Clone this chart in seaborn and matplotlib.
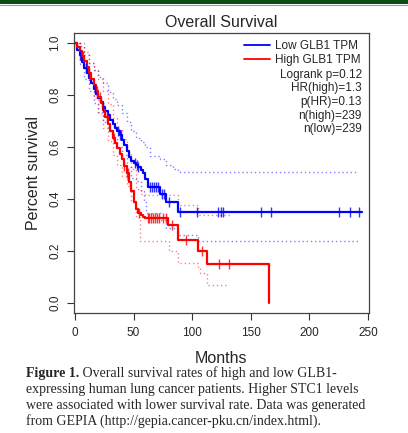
import numpy as np
import matplotlib
matplotlib.use("Agg")
import matplotlib.pyplot as plt
import seaborn as sns
from matplotlib.lines import Line2D
from matplotlib.patches import Rectangle

sns.set_style("white")
plt.rcParams['font.family'] = ['Liberation Sans', 'DejaVu Sans']

# Kaplan-Meier step knots (months, survival)
low_t = [0, 2, 4, 6, 8, 10, 12, 14, 16, 18, 20, 22, 24, 26, 28, 30, 32, 34, 36, 38,
         40, 42, 44, 46, 48, 50, 52, 54, 56, 58, 60, 62, 72.5, 77.5, 88, 244.6]
low_s = [1.0, 0.975, 0.952, 0.928, 0.905, 0.885, 0.865, 0.845, 0.825, 0.805, 0.788,
         0.772, 0.755, 0.74, 0.722, 0.705, 0.688, 0.672, 0.66, 0.645, 0.628, 0.608,
         0.585, 0.56, 0.548, 0.54, 0.532, 0.522, 0.512, 0.5, 0.478, 0.447, 0.42,
         0.39, 0.35, 0.35]

high_t = [0, 2, 4, 6, 8, 10, 12, 14, 16, 18, 20, 22, 24, 26, 28, 30, 32, 34, 36, 38,
          40, 42, 44, 46, 48, 50, 52, 54, 56, 58, 60, 79.6, 87.5, 105.2, 112.3, 165.5]
high_s = [1.0, 0.985, 0.968, 0.95, 0.93, 0.908, 0.885, 0.862, 0.838, 0.815, 0.792,
          0.768, 0.742, 0.715, 0.69, 0.662, 0.636, 0.614, 0.595, 0.575, 0.552, 0.528,
          0.5, 0.465, 0.43, 0.39, 0.362, 0.348, 0.338, 0.33, 0.325, 0.3, 0.242, 0.2,
          0.151, 0.0]

# censoring times
low_cens = [4, 9, 17, 24, 36.5, 38, 39, 51, 52.5, 54, 64, 65.5, 67, 69, 70.5, 74.5,
            76, 80, 89.5, 104, 122, 124.5, 126, 159, 167, 225, 235, 242]
high_cens = [7, 12, 18.5, 21, 27, 33, 42, 44, 45, 55, 62, 63.5, 65, 66.5, 68, 70, 72,
             75, 78, 83, 94.4, 108.6, 122.9, 131.7]

# 95% confidence bands
low_up_t = [0, 4, 8, 12, 16, 20, 24, 28, 32, 36, 40, 44, 48, 52, 56, 60, 64, 72.5,
            78, 84, 88, 241.7]
low_up_s = [1.0, 0.99, 0.955, 0.925, 0.895, 0.87, 0.845, 0.81, 0.785, 0.76, 0.73,
            0.695, 0.66, 0.635, 0.62, 0.6, 0.565, 0.555, 0.53, 0.515, 0.505, 0.505]
low_lo_t = [0, 4, 8, 12, 16, 20, 24, 28, 32, 36, 40, 44, 48, 52, 56, 59, 61, 72.5,
            78, 88, 105, 241.7]
low_lo_s = [1.0, 0.92, 0.86, 0.815, 0.77, 0.735, 0.695, 0.665, 0.63, 0.6, 0.57,
            0.525, 0.48, 0.47, 0.43, 0.39, 0.347, 0.32, 0.29, 0.26, 0.24, 0.24]
high_up_t = [0, 4, 8, 12, 16, 20, 24, 28, 32, 36, 40, 44, 48, 52, 56, 60, 87.5, 105, 132]
high_up_s = [1.0, 1.0, 0.965, 0.925, 0.895, 0.86, 0.815, 0.765, 0.71, 0.67, 0.63,
             0.58, 0.515, 0.44, 0.42, 0.415, 0.377, 0.338, 0.338]
high_lo_t = [0, 4, 8, 12, 16, 20, 24, 28, 32, 36, 40, 44, 48, 52, 55.5, 80, 88, 105,
             107, 112.3, 131.7]
high_lo_s = [1.0, 0.94, 0.895, 0.845, 0.79, 0.73, 0.675, 0.625, 0.57, 0.53, 0.49,
             0.45, 0.39, 0.33, 0.24, 0.2, 0.154, 0.14, 0.114, 0.069, 0.069]

stats_lines = ["Logrank p=0.12", "HR(high)=1.3", "p(HR)=0.13", "n(high)=239", "n(low)=239"]
caption = ["expressing human lung cancer patients. Higher STC1 levels",
           "were associated with lower survival rate. Data was generated",
           "from GEPIA (http://gepia.cancer-pku.cn/index.html)."]


def surv_at(t, times, surv):
    idx = np.searchsorted(times, t, side='right') - 1
    return np.asarray(surv)[idx]


fig = plt.figure(figsize=(4.08, 4.33), dpi=100)
ax = fig.add_axes([74 / 408, 120 / 433, 295 / 408, 280 / 433])

# header bar
fig.add_artist(Rectangle((0, 1 - 3.5 / 433), 1, 3.5 / 433, transform=fig.transFigure,
                         color='#0b4d12', lw=0))
fig.add_artist(Line2D([0, 1], [1 - 5 / 433] * 2, transform=fig.transFigure,
                      color='#9a9a9a', lw=0.8))

dot = (0, (1, 2))
for t, s, c in [(low_up_t, low_up_s, 'blue'), (low_lo_t, low_lo_s, 'blue'),
                (high_up_t, high_up_s, 'red'), (high_lo_t, high_lo_s, 'red')]:
    ax.plot(t, s, drawstyle='steps-post', color=c, alpha=0.5, lw=1.0, linestyle=dot)

sns.lineplot(x=low_t, y=low_s, drawstyle='steps-post', color='blue', lw=1.6,
             estimator=None, ax=ax)
sns.lineplot(x=high_t, y=high_s, drawstyle='steps-post', color='red', lw=1.6,
             estimator=None, ax=ax)

ax.plot(low_cens, surv_at(low_cens, low_t, low_s), ls='', marker='|', ms=7,
        mew=1.0, color='blue', alpha=0.8)
ax.plot(high_cens, surv_at(high_cens, high_t, high_s), ls='', marker='|', ms=7,
        mew=1.0, color='red', alpha=0.8)

ax.set_xlim(-0.85, 250.85)
ax.set_ylim(-0.0385, 1.0385)
ax.set_xticks([0, 50, 100, 150, 200, 250])
ax.set_yticks([0.0, 0.2, 0.4, 0.6, 0.8, 1.0])
ax.set_yticklabels(['0.0', '0.2', '0.4', '0.6', '0.8', '1.0'], rotation=90, va='center')
ax.tick_params(axis='both', direction='out', length=5, width=0.8, labelsize=8.5,
               color='#333333', left=True, bottom=True, pad=5)
ax.tick_params(axis='y', pad=4)
for sp in ax.spines.values():
    sp.set_color('#444444')
    sp.set_linewidth(0.9)

ax.set_title("Overall Survival", fontsize=11.5, pad=4)
ax.set_xlabel("Months", fontsize=11.5, labelpad=8.5)
ax.set_ylabel("Percent survival", fontsize=11.5, labelpad=6)

handles = [Line2D([], [], color='blue', lw=1.3), Line2D([], [], color='red', lw=1.3)]
ax.legend(handles, ["Low GLB1 TPM", "High GLB1 TPM"], loc='upper right',
          frameon=False, fontsize=8.5, handlelength=2.2, handletextpad=0.4,
          labelspacing=0.14, borderaxespad=0.3, bbox_to_anchor=(1.0, 1.003))
for i, line in enumerate(stats_lines):
    ax.text(0.975, 0.851 - i * 0.0488, line, transform=ax.transAxes, ha='right',
            va='center', fontsize=8.5)

serif = ['Liberation Serif', 'DejaVu Serif']
t0 = fig.text(26 / 408, 1 - 373.5 / 433, "Figure 1.", fontsize=10, fontweight='bold',
              family=serif, va='center')
ax.annotate(" Overall survival rates of high and low GLB1-", xy=(1, 0.5),
            xycoords=t0, va='center', ha='left', fontsize=10, family=serif,
            annotation_clip=False)
for i, line in enumerate(caption):
    fig.text(26 / 408, 1 - (389.5 + i * 15.6) / 433, line, fontsize=10, family=serif,
             va='center')

fig.savefig('out.png', dpi=100)
